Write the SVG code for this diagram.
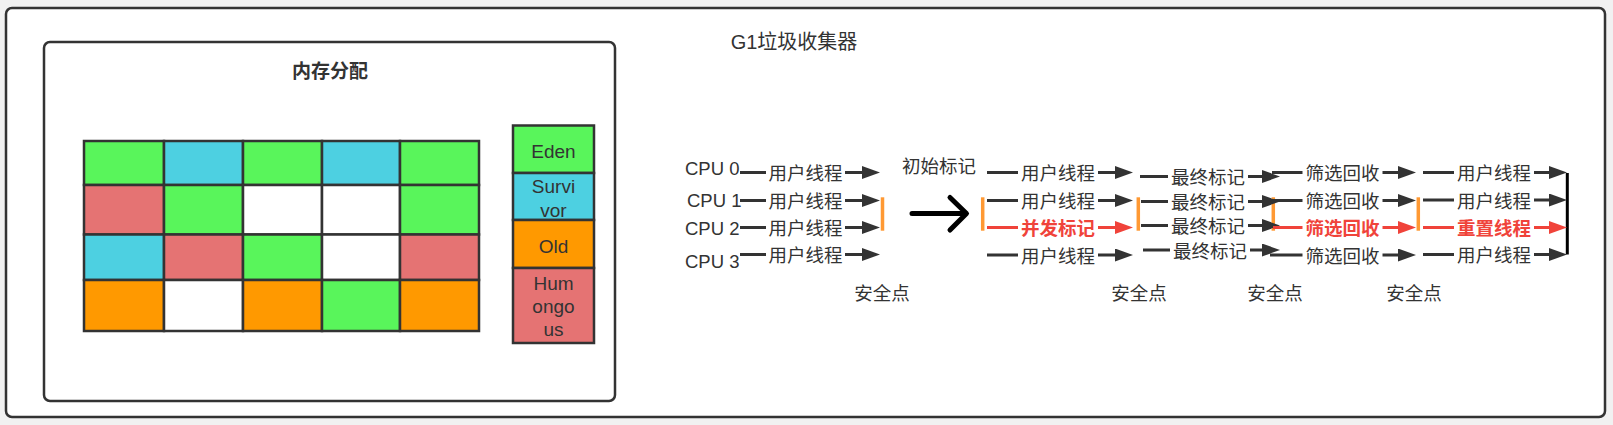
<svg xmlns="http://www.w3.org/2000/svg" width="1613" height="425" viewBox="0 0 1613 425">
<style>
.t{font-family:"Liberation Sans","Noto Sans CJK SC",sans-serif;font-size:18.5px;fill:#333}
.c{text-anchor:middle}
.r{fill:#F0433A;font-weight:bold}
.ln{stroke:#333;stroke-width:3;fill:none;marker-end:url(#arr)}
.lr{stroke:#F0433A;stroke-width:3;fill:none;marker-end:url(#arrR)}
.bg{fill:#fff}
.bar{stroke:#FF9933;stroke-width:3.5}
.cell{stroke:#333;stroke-width:2.5}
.G{fill:#59F55B}.B{fill:#4DD0E1}.R{fill:#E57373}.O{fill:#FF9900}.W{fill:#fff}
</style>
<defs>
<marker id="arr" viewBox="0 0 18 13" refX="3" refY="6.5" markerWidth="18" markerHeight="13" markerUnits="userSpaceOnUse" orient="auto"><path d="M0,0 L18,6.5 L0,13 Z" fill="#333"/></marker>
<marker id="arrR" viewBox="0 0 18 13" refX="3" refY="6.5" markerWidth="18" markerHeight="13" markerUnits="userSpaceOnUse" orient="auto"><path d="M0,0 L18,6.5 L0,13 Z" fill="#F0433A"/></marker>
</defs>
<rect width="1613" height="425" fill="#f1f1f1"/>
<g id="frame"><rect x="6" y="8" width="1599" height="409" rx="6" fill="#fff" stroke="#333" stroke-width="2.5"/>
<text class="t c" x="794" y="49" style="font-size:20px">G1垃圾收集器</text></g>
<g id="memory"><rect x="44" y="42" width="571" height="359" rx="6" fill="#fff" stroke="#333" stroke-width="2.5"/>
<text class="t c" x="330" y="78" style="font-weight:bold;font-size:19px">内存分配</text></g>
<g id="grid">
<rect class="cell G" x="84" y="141" width="80" height="44"/><rect class="cell B" x="164" y="141" width="79" height="44"/><rect class="cell G" x="243" y="141" width="79" height="44"/><rect class="cell B" x="322" y="141" width="78" height="44"/><rect class="cell G" x="400" y="141" width="79" height="44"/>
<rect class="cell R" x="84" y="185" width="80" height="49.5"/><rect class="cell G" x="164" y="185" width="79" height="49.5"/><rect class="cell W" x="243" y="185" width="79" height="49.5"/><rect class="cell W" x="322" y="185" width="78" height="49.5"/><rect class="cell G" x="400" y="185" width="79" height="49.5"/>
<rect class="cell B" x="84" y="234.5" width="80" height="45.5"/><rect class="cell R" x="164" y="234.5" width="79" height="45.5"/><rect class="cell G" x="243" y="234.5" width="79" height="45.5"/><rect class="cell W" x="322" y="234.5" width="78" height="45.5"/><rect class="cell R" x="400" y="234.5" width="79" height="45.5"/>
<rect class="cell O" x="84" y="280" width="80" height="51"/><rect class="cell W" x="164" y="280" width="79" height="51"/><rect class="cell O" x="243" y="280" width="79" height="51"/><rect class="cell G" x="322" y="280" width="78" height="51"/><rect class="cell O" x="400" y="280" width="79" height="51"/>
</g>
<g id="legend-eden"><rect class="cell G" x="513" y="125.5" width="81" height="47.5"/><text class="t c" x="553.5" y="158.3" style="font-size:19px">Eden</text></g>
<g id="legend-survivor"><rect class="cell B" x="513" y="173" width="81" height="47"/><text class="t c" x="553.5" y="193.3" style="font-size:19px">Survi</text><text class="t c" x="553.5" y="216.7" style="font-size:19px">vor</text></g>
<g id="legend-old"><rect class="cell O" x="513" y="220" width="81" height="48"/><text class="t c" x="553.5" y="252.5" style="font-size:19px">Old</text></g>
<g id="legend-humongous"><rect class="cell R" x="513" y="268" width="81" height="75"/><text class="t c" x="553.5" y="289.5" style="font-size:19px">Hum</text><text class="t c" x="553.5" y="312.5" style="font-size:19px">ongo</text><text class="t c" x="553.5" y="336" style="font-size:19px">us</text></g>
<g id="cpu0"><text class="t" x="685" y="174.8">CPU 0</text></g>
<g id="cpu1"><text class="t" x="687" y="206.5">CPU 1</text></g>
<g id="cpu2"><text class="t" x="685" y="234.8">CPU 2</text></g>
<g id="cpu3"><text class="t" x="685" y="268.2">CPU 3</text></g>
<g id="initial-mark"><text class="t c" x="939" y="173">初始标记</text></g>
<g id="safepoint-1"><line class="bar" x1="882.5" y1="197.3" x2="882.5" y2="230.7"/><text class="t c" x="882" y="299.5">安全点</text></g>
<g id="safepoint-2"><line class="bar" x1="982.7" y1="197.3" x2="982.7" y2="230.7"/></g>
<g id="safepoint-3"><line class="bar" x1="1138.3" y1="197.3" x2="1138.3" y2="230.7"/><text class="t c" x="1139" y="299.5">安全点</text></g>
<g id="safepoint-4"><line class="bar" x1="1273.3" y1="197.3" x2="1273.3" y2="230.7"/><text class="t c" x="1275" y="299.5">安全点</text></g>
<g id="safepoint-5"><line class="bar" x1="1418.3" y1="197.3" x2="1418.3" y2="230.7"/><text class="t c" x="1414" y="299.5">安全点</text></g>
<g id="end-bar"><line x1="1567.3" y1="173" x2="1567.3" y2="254.5" stroke="#000" stroke-width="3"/></g>
<g id="connectors">
<path d="M912,213.5 L966,213.5 M950,197.5 L966.5,213.5 L950,230" stroke="#000" stroke-width="5" fill="none" stroke-linecap="round" stroke-linejoin="round"/>
<line class="ln" x1="740" y1="172.5" x2="865" y2="172.5"/><line class="ln" x1="740" y1="200.5" x2="865" y2="200.5"/><line class="ln" x1="740" y1="227.5" x2="865" y2="227.5"/><line class="ln" x1="740" y1="254.5" x2="865" y2="254.5"/>
<line class="ln" x1="987" y1="172.5" x2="1118" y2="172.5"/><line class="ln" x1="987" y1="200.5" x2="1118" y2="200.5"/><line class="lr" x1="987" y1="227.5" x2="1118" y2="227.5"/><line class="ln" x1="987" y1="255" x2="1118" y2="255"/>
<line class="ln" x1="1140" y1="176.5" x2="1265" y2="176.5"/><line class="ln" x1="1141" y1="201.5" x2="1265" y2="201.5"/><line class="ln" x1="1141" y1="225.5" x2="1265" y2="225.5"/><line class="ln" x1="1143" y1="250" x2="1265" y2="250"/>
<line class="ln" x1="1272" y1="172.5" x2="1401" y2="172.5"/><line class="ln" x1="1273" y1="200.5" x2="1401" y2="200.5"/><line class="lr" x1="1273" y1="227.5" x2="1401" y2="227.5"/><line class="ln" x1="1270" y1="255" x2="1401" y2="255"/>
<line class="ln" x1="1423" y1="172.5" x2="1552" y2="172.5"/><line class="ln" x1="1423" y1="200" x2="1552" y2="200"/><line class="lr" x1="1423" y1="227.5" x2="1552" y2="227.5"/><line class="ln" x1="1423" y1="254.5" x2="1552" y2="254.5"/>
<g id="edge-labels">
<rect class="bg" x="766" y="162.5" width="79" height="20"/><text class="t c" x="805.5" y="180">用户线程</text>
<rect class="bg" x="766" y="190.5" width="79" height="20"/><text class="t c" x="805.5" y="208">用户线程</text>
<rect class="bg" x="766" y="217.5" width="79" height="20"/><text class="t c" x="805.5" y="235">用户线程</text>
<rect class="bg" x="766" y="244.5" width="79" height="20"/><text class="t c" x="805.5" y="262">用户线程</text>
<rect class="bg" x="1018" y="162.5" width="80" height="20"/><text class="t c" x="1058" y="180">用户线程</text>
<rect class="bg" x="1018" y="190.5" width="80" height="20"/><text class="t c" x="1058" y="208">用户线程</text>
<rect class="bg" x="1018" y="217.5" width="80" height="20"/><text class="t c r" x="1058" y="235">并发标记</text>
<rect class="bg" x="1018" y="245" width="80" height="20"/><text class="t c" x="1058" y="262.5">用户线程</text>
<rect class="bg" x="1168" y="166.5" width="80" height="20"/><text class="t c" x="1208" y="184">最终标记</text>
<rect class="bg" x="1168" y="191.5" width="80" height="20"/><text class="t c" x="1208" y="209">最终标记</text>
<rect class="bg" x="1168" y="215.5" width="80" height="20"/><text class="t c" x="1208" y="233">最终标记</text>
<rect class="bg" x="1170" y="240" width="80" height="20"/><text class="t c" x="1210" y="257.5">最终标记</text>
<rect class="bg" x="1302.5" y="162.5" width="80" height="20"/><text class="t c" x="1342.5" y="180">筛选回收</text>
<rect class="bg" x="1302.5" y="190.5" width="80" height="20"/><text class="t c" x="1342.5" y="208">筛选回收</text>
<rect class="bg" x="1302.5" y="217.5" width="80" height="20"/><text class="t c r" x="1342.5" y="235">筛选回收</text>
<rect class="bg" x="1302.5" y="245" width="80" height="20"/><text class="t c" x="1342.5" y="262.5">筛选回收</text>
<rect class="bg" x="1454" y="162.5" width="80" height="20"/><text class="t c" x="1494" y="180">用户线程</text>
<rect class="bg" x="1454" y="190" width="80" height="20"/><text class="t c" x="1494" y="207.5">用户线程</text>
<rect class="bg" x="1454" y="217.5" width="80" height="20"/><text class="t c r" x="1494" y="235">重置线程</text>
<rect class="bg" x="1454" y="244.5" width="80" height="20"/><text class="t c" x="1494" y="262">用户线程</text>
</g>
</g>
</svg>
